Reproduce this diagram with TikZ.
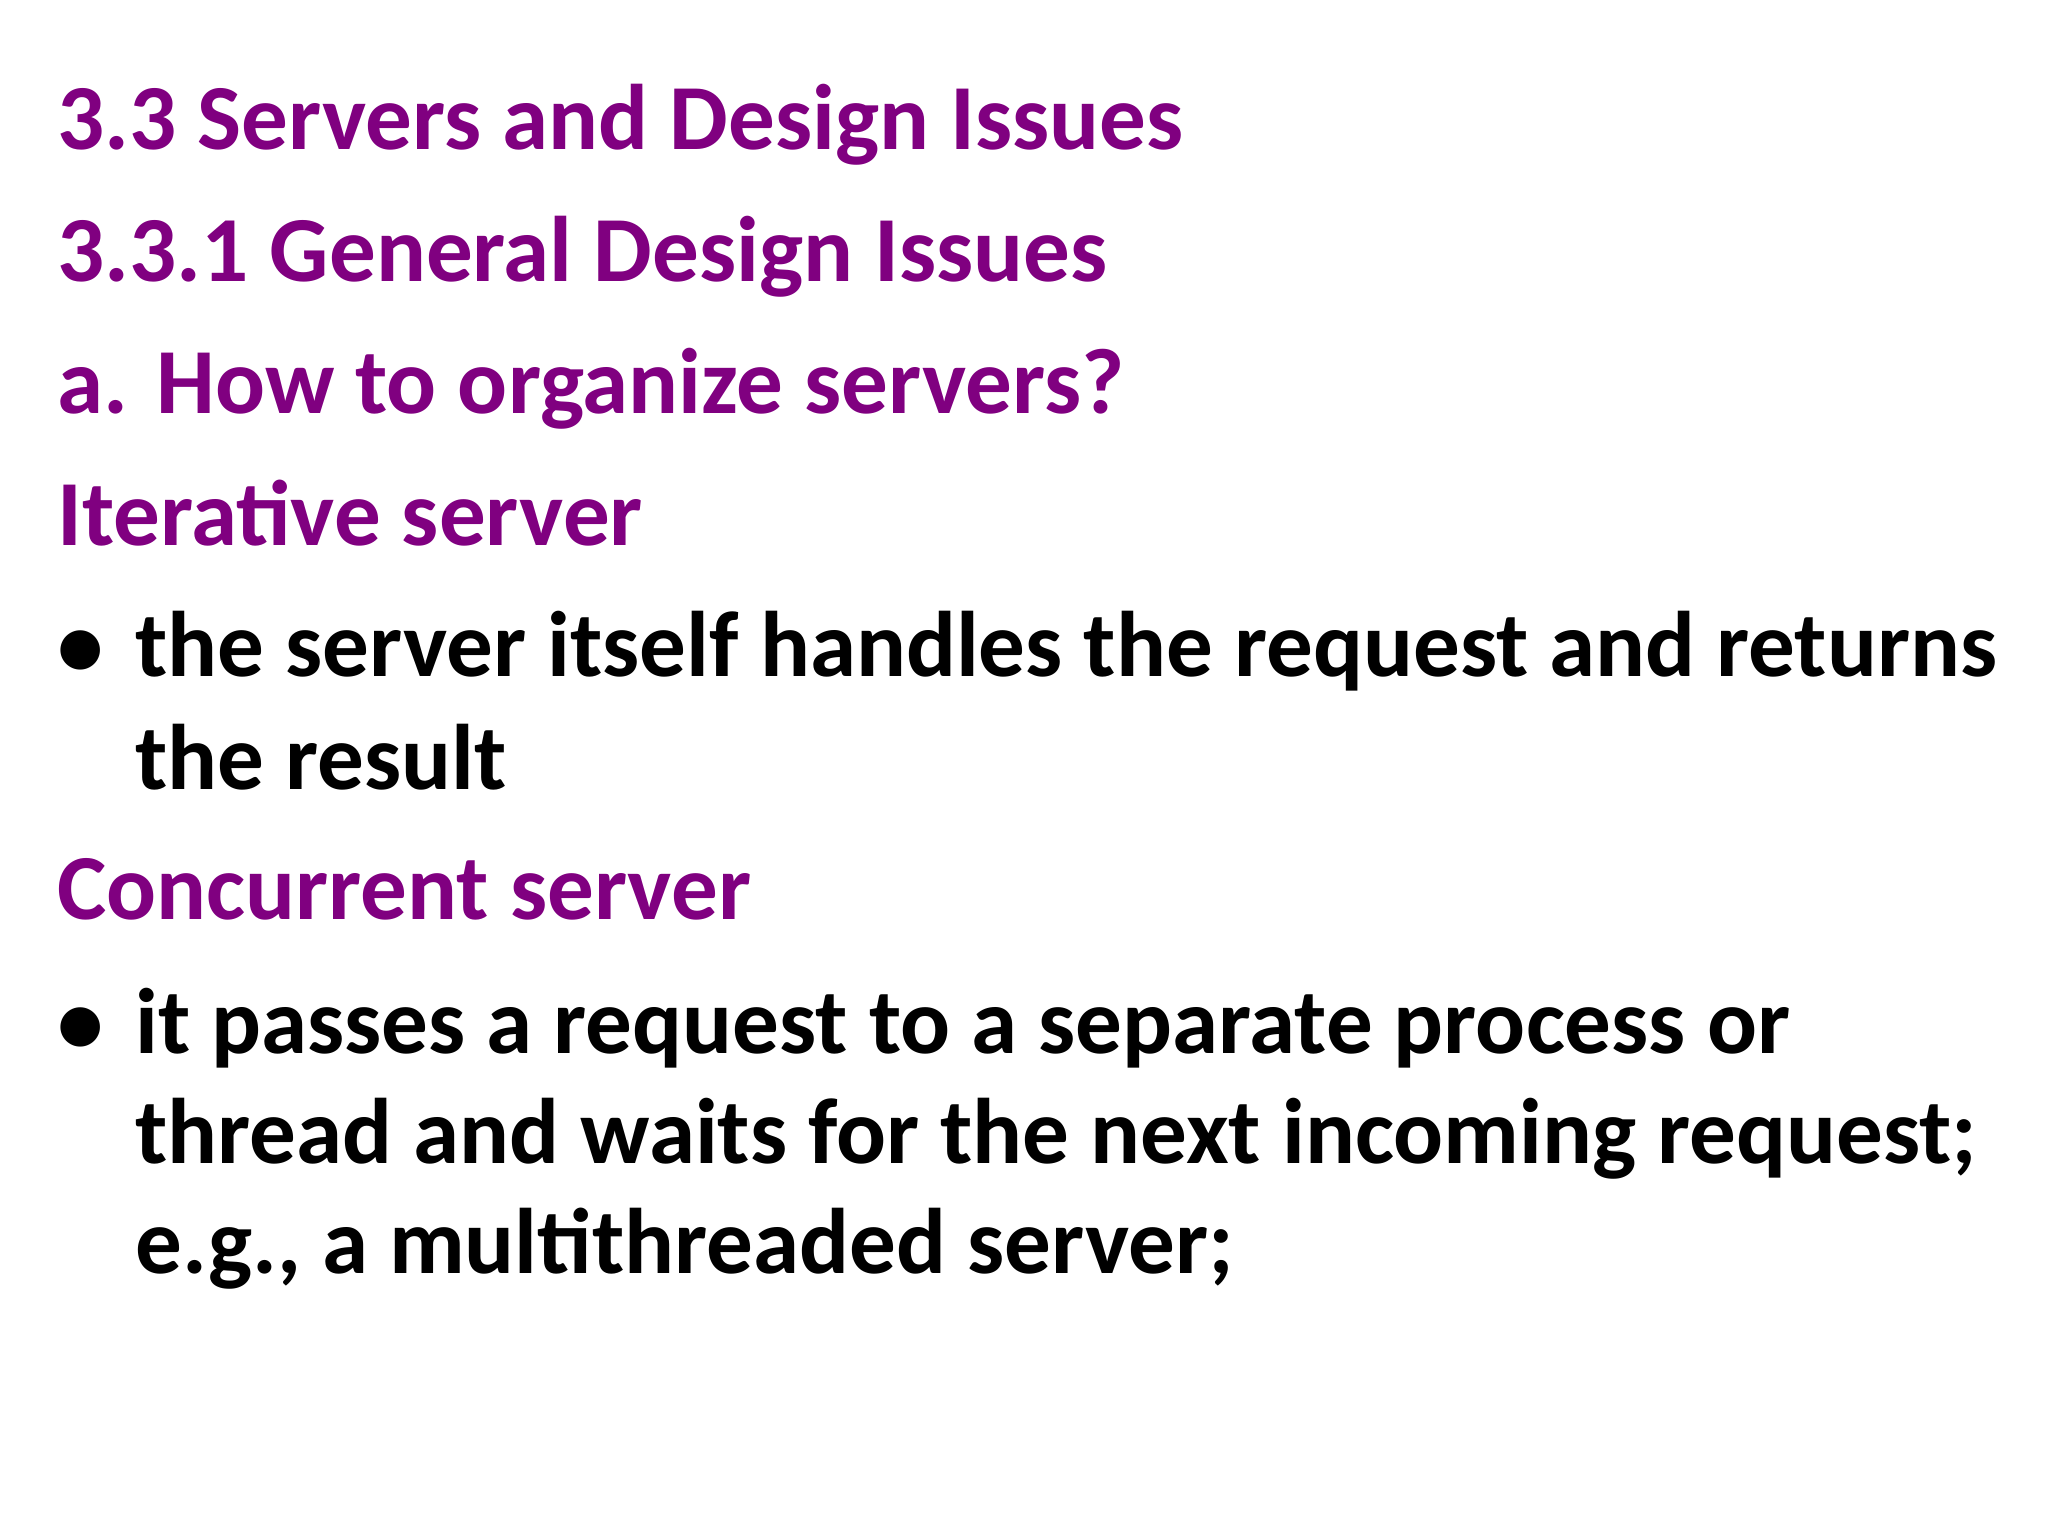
\documentclass[tikz,border=0pt]{standalone}
\usepackage{fontspec}
\setmainfont{Carlito}
\definecolor{hpurple}{RGB}{128,0,128}
\begin{document}
\begin{tikzpicture}[x=0.013196cm,y=-0.013196cm,
  txt/.style={anchor=base west,inner sep=0pt,font=\bfseries\fontsize{26.5}{30}\selectfont},
  head/.style={txt,text=hpurple},
  body/.style={txt,text=black}]
\useasboundingbox (0,0) rectangle (1552,1164);
\node[head] (h1) at (43,113) {3.3 Servers and Design Issues};
\node[head] (h2) at (43,213) {3.3.1 General Design Issues};
\node[head] (h3) at (43,313) {a. How to organize servers?};
\node[head] (h4) at (43,413) {Iterative server};
\node[body] (b1) at (43,513) {•};
\node[body] (t1) at (102,513) {the server itself handles the request and returns};
\node[body] (t2) at (102,598) {the result};
\node[head] (h5) at (43,697) {Concurrent server};
\node[body] (b2) at (43,798) {•};
\node[body] (t3) at (102,798) {it passes a request to a separate process or};
\node[body] (t4) at (102,882) {thread and waits for the next incoming request;};
\node[body] (t5) at (102,965) {e.g., a multithreaded server;};
\end{tikzpicture}
\end{document}
